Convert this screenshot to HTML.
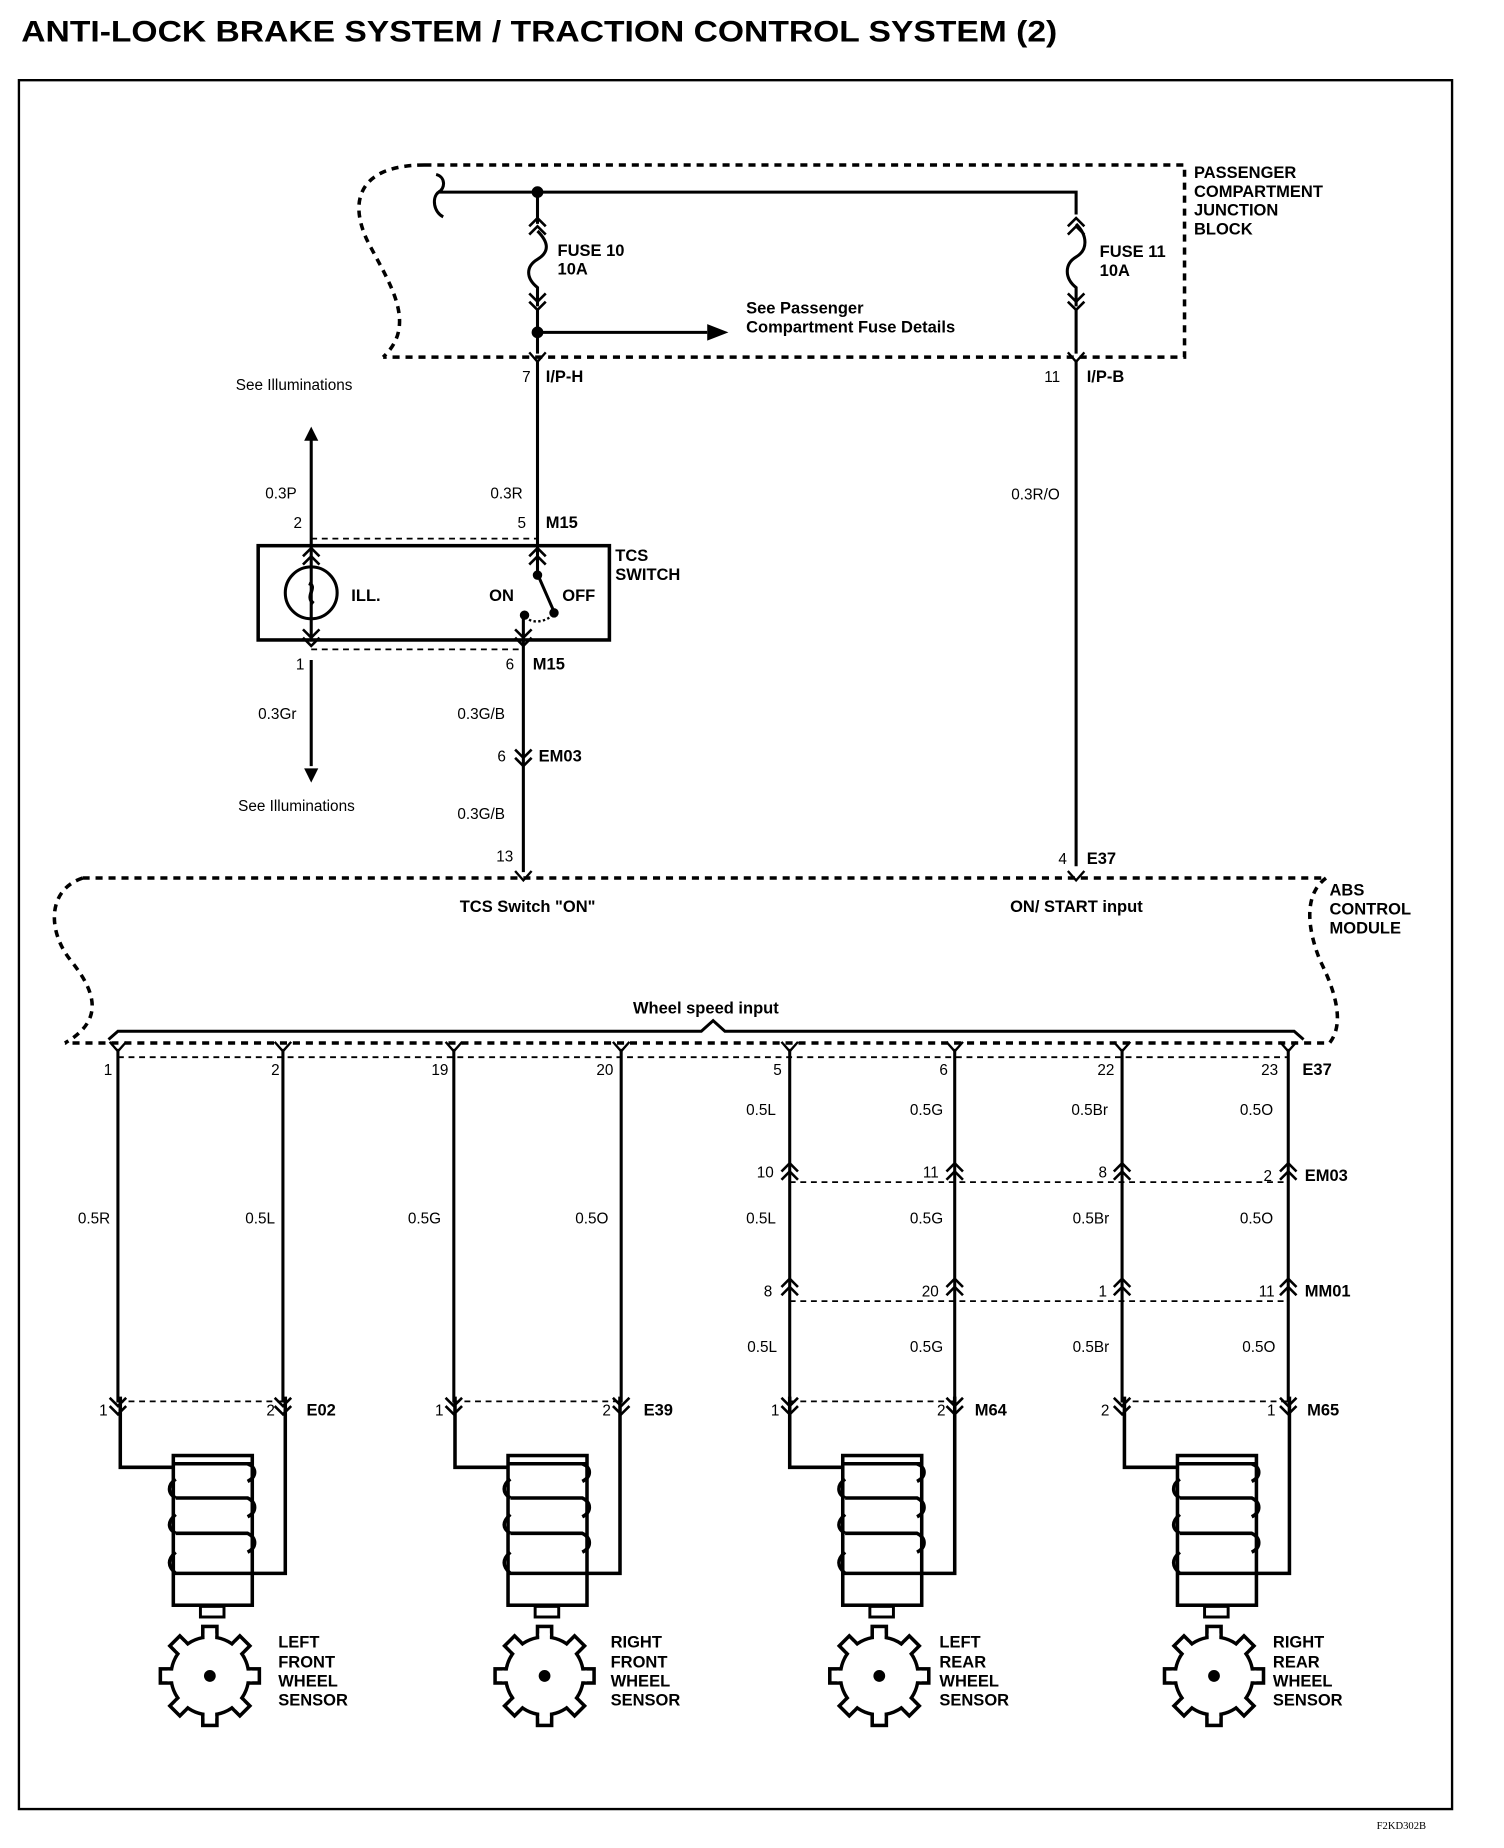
<!DOCTYPE html>
<html><head><meta charset="utf-8"><style>
html,body{margin:0;padding:0;background:#fff}
svg{display:block}
text{font-family:"Liberation Sans",Arial,sans-serif;font-weight:bold;fill:#000}
.s{font-size:13px;font-weight:normal}
.b{font-size:14px}
</style></head><body>
<svg width="1504" height="1848" viewBox="0 0 1276 1568" xmlns="http://www.w3.org/2000/svg">
<defs>
<g id="dn" fill="none" stroke="#000" stroke-width="2.2"><path d="M-7,-9 L0,-2 L7,-9 M-7,-2 L0,5 L7,-2"/></g>
<g id="up" fill="none" stroke="#000" stroke-width="2.2"><path d="M-7,9 L0,2 L7,9 M-7,2 L0,-5 L7,2"/></g>
<g id="pin" fill="none" stroke="#000" stroke-width="2"><path d="M-7,-6 L0,2 L7,-6"/></g>
<g id="gear">
<g fill="#fff" stroke="#000" stroke-width="3">
<rect x="-6" y="-42" width="12" height="12" transform="rotate(0)"/>
<rect x="-6" y="-42" width="12" height="12" transform="rotate(45)"/>
<rect x="-6" y="-42" width="12" height="12" transform="rotate(90)"/>
<rect x="-6" y="-42" width="12" height="12" transform="rotate(135)"/>
<rect x="-6" y="-42" width="12" height="12" transform="rotate(180)"/>
<rect x="-6" y="-42" width="12" height="12" transform="rotate(225)"/>
<rect x="-6" y="-42" width="12" height="12" transform="rotate(270)"/>
<rect x="-6" y="-42" width="12" height="12" transform="rotate(315)"/>
<circle r="33"/>
</g>
<g fill="#fff"><rect x="-4.5" y="-36" width="9" height="8" transform="rotate(0)"/><rect x="-4.5" y="-36" width="9" height="8" transform="rotate(45)"/><rect x="-4.5" y="-36" width="9" height="8" transform="rotate(90)"/><rect x="-4.5" y="-36" width="9" height="8" transform="rotate(135)"/><rect x="-4.5" y="-36" width="9" height="8" transform="rotate(180)"/><rect x="-4.5" y="-36" width="9" height="8" transform="rotate(225)"/><rect x="-4.5" y="-36" width="9" height="8" transform="rotate(270)"/><rect x="-4.5" y="-36" width="9" height="8" transform="rotate(315)"/></g>
<circle r="5" fill="#000"/>
</g>
<g id="sensor" fill="none" stroke="#000" stroke-width="3">
<path d="M0,-10 V50 H45"/>
<path d="M140,-10 V140 H112"/>
<rect x="45" y="40" width="67" height="127" fill="#fff"/>
<line x1="45" y1="47" x2="112" y2="47"/>
<path d="M45,47 H108 C116,50 116,58 108,62 M47,60 C40,65 40,72 47,76 M47,76 H108 C116,80 116,88 108,92 M47,90 C40,96 40,102 47,106 M47,106 H108 C116,110 116,118 108,122 M47,122 C40,128 40,134 47,140 M45,140 H112"/>
<rect x="68" y="168" width="20" height="9" stroke-width="2.5"/>
</g>
</defs>

<text x="18" y="35" style="font-size:25px" textLength="879" lengthAdjust="spacingAndGlyphs">ANTI-LOCK BRAKE SYSTEM / TRACTION CONTROL SYSTEM (2)</text>
<path d="M16,68 H1232 V1535 H16 Z" fill="none" stroke="#000" stroke-width="2"/>

<path d="M360,140 H1005 V303 H325 M360,140 C305,140 295,170 312,205 C330,240 355,275 325,303" fill="none" stroke="#000" stroke-width="3" stroke-dasharray="6,5"/>
<text class="b" x="1013" y="151">PASSENGER</text>
<text class="b" x="1013" y="167">COMPARTMENT</text>
<text class="b" x="1013" y="183">JUNCTION</text>
<text class="b" x="1013" y="199">BLOCK</text>
<g fill="none" stroke="#000" stroke-width="2.6">
<path d="M370,148 C378,150 378,160 372,163 H913 V182"/>
<path d="M372,163 C366,168 368,180 376,184"/>
<path d="M456,163 V190 M456,196 C466,206 466,214 456,220 C446,226 446,236 456,244 V260 M456,262 V300"/>
<path d="M913,190 C923,200 923,212 913,218 C903,224 903,236 913,244 V260 M913,262 V300"/>
<path d="M456,282 H600"/>
<path d="M456,305 V462 M913,305 V735"/>
</g>
<circle cx="456" cy="163" r="5"/>
<circle cx="456" cy="282" r="5"/>
<path d="M600,275 L618,282 L600,289 Z"/>
<use href="#up" x="456" y="190"/><use href="#dn" x="456" y="258"/><use href="#pin" x="456" y="305"/>
<use href="#up" x="913" y="190"/><use href="#dn" x="913" y="258"/><use href="#pin" x="913" y="305"/>
<text class="b" x="473" y="217">FUSE 10</text><text class="b" x="473" y="233">10A</text>
<text class="b" x="933" y="218">FUSE 11</text><text class="b" x="933" y="234">10A</text>
<text class="b" x="633" y="266">See Passenger</text><text class="b" x="633" y="282">Compartment Fuse Details</text>
<text class="s" x="443" y="324">7</text><text class="b" x="463" y="324">I/P-H</text>
<text class="s" x="886" y="324">11</text><text class="b" x="922" y="324">I/P-B</text>
<text class="s" x="200" y="331">See Illuminations</text>
<text class="s" x="858" y="424">0.3R/O</text>

<g fill="none" stroke="#000" stroke-width="2.6">
<path d="M264,372 V462"/>
<rect x="219" y="463" width="298" height="80" stroke-width="3"/>
<path d="M264,463 V543 M456,463 V487 M470,519 L456,487"/>
<circle cx="264" cy="503" r="22"/>
<path d="M264,560 V650 M444,525 V740"/>
</g>
<path d="M264,362 L258,374 L270,374 Z"/>
<path d="M258,652 L264,664 L270,652 Z"/>
<path d="M264,457 H456 M264,551 H444" stroke="#000" stroke-width="1.5" stroke-dasharray="5,4"/>
<path d="M446,523 C450,530 465,528 470,520" stroke="#000" stroke-width="2" fill="none" stroke-dasharray="2,2"/>
<circle cx="456" cy="488" r="4"/><circle cx="470" cy="520" r="4"/><circle cx="445" cy="522" r="4"/>
<path d="M262,495 C270,498 258,506 266,512" stroke="#000" stroke-width="3" fill="none"/>
<use href="#up" x="264" y="470"/><use href="#up" x="456" y="470"/>
<use href="#dn" x="264" y="543"/><use href="#dn" x="444" y="543"/>
<use href="#dn" x="444" y="645"/>
<text class="s" x="225" y="423">0.3P</text><text class="s" x="249" y="448">2</text>
<text class="s" x="416" y="423">0.3R</text><text class="s" x="439" y="448">5</text><text class="b" x="463" y="448">M15</text>
<text class="b" x="522" y="476">TCS</text><text class="b" x="522" y="492">SWITCH</text>
<text class="b" x="298" y="510">ILL.</text><text class="b" x="415" y="510">ON</text><text class="b" x="477" y="510">OFF</text>
<text class="s" x="251" y="568">1</text><text class="s" x="429" y="568">6</text><text class="b" x="452" y="568">M15</text>
<text class="s" x="219" y="610">0.3Gr</text><text class="s" x="388" y="610">0.3G/B</text>
<text class="s" x="422" y="646">6</text><text class="b" x="457" y="646">EM03</text>
<text class="s" x="202" y="688">See Illuminations</text>
<text class="s" x="388" y="695">0.3G/B</text>
<text class="s" x="421" y="731">13</text><text class="s" x="898" y="733">4</text><text class="b" x="922" y="733">E37</text>
<use href="#pin" x="444" y="745"/><use href="#pin" x="913" y="745"/>

<path d="M70,745 H1125 M1125,745 C1105,760 1110,790 1120,815 C1135,845 1140,870 1128,885 H55 M70,745 C40,755 40,790 60,815 C80,840 90,865 55,885" fill="none" stroke="#000" stroke-width="3" stroke-dasharray="6,5"/>
<text class="b" x="390" y="774">TCS Switch "ON"</text>
<text class="b" x="857" y="774">ON/ START input</text>
<text class="b" x="1128" y="760">ABS</text><text class="b" x="1128" y="776">CONTROL</text><text class="b" x="1128" y="792">MODULE</text>
<text class="b" x="537" y="860">Wheel speed input</text>
<path d="M92,882 L100,875 H595 L605,866 L615,875 H1098 L1106,882" fill="none" stroke="#000" stroke-width="2.5"/>
<path d="M100,897 H1093" stroke="#000" stroke-width="1.5" stroke-dasharray="5,4"/>

<g fill="none" stroke="#000" stroke-width="2.6">
<path d="M100,890 V1190 M240,890 V1190 M385,890 V1190 M527,890 V1190 M670,890 V1190 M810,890 V1190 M952,890 V1190 M1093,890 V1190"/>
</g>
<use href="#pin" x="100" y="890"/><use href="#pin" x="240" y="890"/><use href="#pin" x="385" y="890"/><use href="#pin" x="527" y="890"/>
<use href="#pin" x="670" y="890"/><use href="#pin" x="810" y="890"/><use href="#pin" x="952" y="890"/><use href="#pin" x="1093" y="890"/>
<text class="s" x="88" y="912">1</text><text class="s" x="230" y="912">2</text><text class="s" x="366" y="912">19</text><text class="s" x="506" y="912">20</text>
<text class="s" x="656" y="912">5</text><text class="s" x="797" y="912">6</text><text class="s" x="931" y="912">22</text><text class="s" x="1070" y="912">23</text><text class="b" x="1105" y="912">E37</text>

<text class="s" x="633" y="946">0.5L</text><text class="s" x="772" y="946">0.5G</text><text class="s" x="909" y="946">0.5Br</text><text class="s" x="1052" y="946">0.5O</text>
<use href="#up" x="670" y="992"/><use href="#up" x="810" y="992"/><use href="#up" x="952" y="992"/><use href="#up" x="1093" y="992"/>
<path d="M670,1003 H1093" stroke="#000" stroke-width="1.5" stroke-dasharray="5,4"/>
<text class="s" x="642" y="999">10</text><text class="s" x="783" y="999">11</text><text class="s" x="932" y="999">8</text><text class="s" x="1072" y="1002">2</text><text class="b" x="1107" y="1002">EM03</text>
<text class="s" x="66" y="1038">0.5R</text><text class="s" x="208" y="1038">0.5L</text><text class="s" x="346" y="1038">0.5G</text><text class="s" x="488" y="1038">0.5O</text>
<text class="s" x="633" y="1038">0.5L</text><text class="s" x="772" y="1038">0.5G</text><text class="s" x="910" y="1038">0.5Br</text><text class="s" x="1052" y="1038">0.5O</text>
<use href="#up" x="670" y="1090"/><use href="#up" x="810" y="1090"/><use href="#up" x="952" y="1090"/><use href="#up" x="1093" y="1090"/>
<path d="M670,1104 H1093" stroke="#000" stroke-width="1.5" stroke-dasharray="5,4"/>
<text class="s" x="648" y="1100">8</text><text class="s" x="782" y="1100">20</text><text class="s" x="932" y="1100">1</text><text class="s" x="1068" y="1100">11</text><text class="b" x="1107" y="1100">MM01</text>
<text class="s" x="634" y="1147">0.5L</text><text class="s" x="772" y="1147">0.5G</text><text class="s" x="910" y="1147">0.5Br</text><text class="s" x="1054" y="1147">0.5O</text>

<path d="M100,1189 H240 M385,1189 H527 M670,1189 H810 M952,1189 H1093" stroke="#000" stroke-width="1.5" stroke-dasharray="5,4"/>
<use href="#dn" x="100" y="1195"/><use href="#dn" x="240" y="1195"/><use href="#dn" x="385" y="1195"/><use href="#dn" x="527" y="1195"/>
<use href="#dn" x="670" y="1195"/><use href="#dn" x="810" y="1195"/><use href="#dn" x="952" y="1195"/><use href="#dn" x="1093" y="1195"/>
<text class="s" x="84" y="1201">1</text><text class="s" x="226" y="1201">2</text><text class="b" x="260" y="1201">E02</text>
<text class="s" x="369" y="1201">1</text><text class="s" x="511" y="1201">2</text><text class="b" x="546" y="1201">E39</text>
<text class="s" x="654" y="1201">1</text><text class="s" x="795" y="1201">2</text><text class="b" x="827" y="1201">M64</text>
<text class="s" x="934" y="1201">2</text><text class="s" x="1075" y="1201">1</text><text class="b" x="1109" y="1201">M65</text>

<use href="#sensor" x="102" y="1195"/><use href="#gear" x="178" y="1422"/>
<use href="#sensor" x="386" y="1195"/><use href="#gear" x="462" y="1422"/>
<use href="#sensor" x="670" y="1195"/><use href="#gear" x="746" y="1422"/>
<use href="#sensor" x="954" y="1195"/><use href="#gear" x="1030" y="1422"/>
<text class="b" x="236" y="1398">LEFT</text><text class="b" x="236" y="1415">FRONT</text><text class="b" x="236" y="1431">WHEEL</text><text class="b" x="236" y="1447">SENSOR</text>
<text class="b" x="518" y="1398">RIGHT</text><text class="b" x="518" y="1415">FRONT</text><text class="b" x="518" y="1431">WHEEL</text><text class="b" x="518" y="1447">SENSOR</text>
<text class="b" x="797" y="1398">LEFT</text><text class="b" x="797" y="1415">REAR</text><text class="b" x="797" y="1431">WHEEL</text><text class="b" x="797" y="1447">SENSOR</text>
<text class="b" x="1080" y="1398">RIGHT</text><text class="b" x="1080" y="1415">REAR</text><text class="b" x="1080" y="1431">WHEEL</text><text class="b" x="1080" y="1447">SENSOR</text>
<text x="1168" y="1552" style="font-size:9px;font-weight:normal;font-family:'Liberation Serif',serif">F2KD302B</text>
</svg>
</body></html>
